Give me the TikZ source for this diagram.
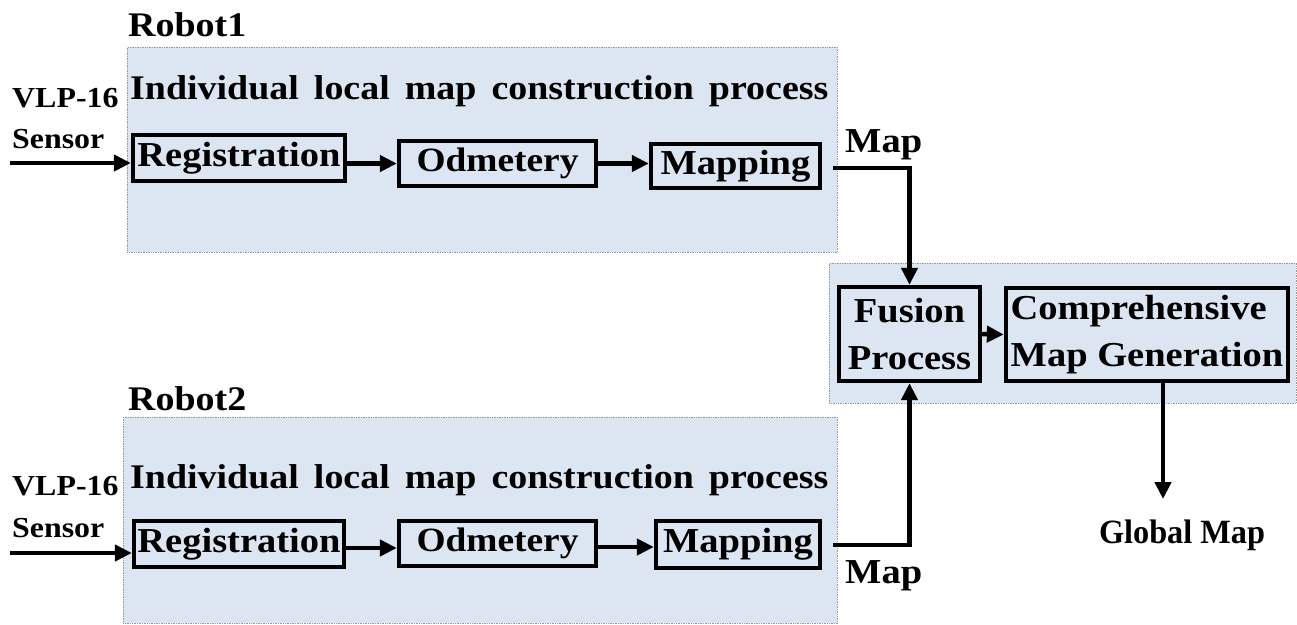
\documentclass[tikz,border=0pt]{standalone}
\usepackage{fontspec}
\setmainfont{Liberation Serif}[FakeStretch=1.1]
\newfontfamily\narrowfont{Liberation Serif}[FakeStretch=0.95]
\usetikzlibrary{arrows.meta}
\definecolor{panelblue}{RGB}{220,230,242}
\begin{document}
\begin{tikzpicture}[x=1pt,y=-1pt,
  panel/.style={fill=panelblue, draw=black!40, densely dotted, line width=0.7pt, inner sep=0, anchor=north west},
  box/.style={draw=black, solid, line width=4.3pt, inner sep=0, fill=panelblue, font=\fontsize{35}{40}\selectfont\bfseries},
  lbl/.style={inner sep=0, anchor=base west, font=\fontsize{34.5}{40}\selectfont\bfseries},
  sens/.style={inner sep=0, anchor=base west, font=\fontsize{29}{34}\selectfont\bfseries},
  conn/.style={line width=4.5pt, -{Triangle[length=17pt,width=16pt]}},
]
\useasboundingbox (0,0) rectangle (1297,624);

% panels
\node[panel, minimum width=710pt, minimum height=205pt] (p1) at (127,47) {};
\node[panel, minimum width=714pt, minimum height=206pt] (p2) at (123,417) {};
\node[panel, minimum width=467pt, minimum height=140pt] (p3) at (829,263) {};

% titles
\node[lbl] (r1) at (128,36) {Robot1};
\node[lbl] (r2) at (128,410) {Robot2};
\node[lbl] (t1) at (130,99) {Individual\hskip15pt local\hskip15pt map\hskip15pt construction\hskip15pt process};
\node[lbl] (t2) at (130,488) {Individual\hskip15pt local\hskip15pt map\hskip15pt construction\hskip15pt process};

% sensor labels
\node[sens] (v1) at (12,107) {VLP-16};
\node[sens] (s1) at (12,148) {Sensor};
\node[sens] (v2) at (12,495) {VLP-16};
\node[sens] (s2) at (12,537) {Sensor};

% row 1 boxes
\node[box, minimum width=212pt, minimum height=46pt] (reg1) at (239,158) {Registration};
\node[box, minimum width=197pt, minimum height=45pt, font=\fontsize{34}{40}\selectfont\bfseries] (odm1) at (497.5,163.5) {Odmetery};
\node[box, minimum width=169pt, minimum height=44pt] (map1) at (735.5,166) {Mapping};
% row 2 boxes
\node[box, minimum width=210pt, minimum height=46pt] (reg2) at (239,544) {Registration};
\node[box, minimum width=197pt, minimum height=45pt, font=\fontsize{34}{40}\selectfont\bfseries] (odm2) at (497.5,543.5) {Odmetery};
\node[box, minimum width=164pt, minimum height=47pt] (map2) at (738,544.5) {Mapping};

% fusion boxes
\node[box, minimum width=141pt, minimum height=94pt, align=center, font=\fontsize{35}{47}\selectfont\bfseries] (fus) at (909.5,334) {Fusion\\Process};
\node[box, minimum width=282pt, minimum height=93pt, align=left, inner xsep=3pt, font=\fontsize{35}{47}\selectfont\bfseries] (comp) at (1147,334.5) {Comprehensive\\Map Generation};

% map labels
\node[lbl, font=\fontsize{35}{40}\selectfont\bfseries] (ml1) at (845,152) {Map};
\node[lbl, font=\fontsize{35}{40}\selectfont\bfseries] (ml2) at (845,583) {Map};
\node[inner sep=0, anchor=base, font=\fontsize{34}{40}\selectfont\bfseries\narrowfont] (gm) at (1182,543) {Global Map};

% free ends
\coordinate (in1) at (10,163);
\coordinate (in2) at (10,553);
\coordinate (m1out) at (833,168);
\coordinate (m2out) at (833,545);
\coordinate (gtip) at (1163,499);

% connectors
\draw[conn] (in1) -- (in1 -| reg1.west);
\draw[conn] (in2) -- (in2 -| reg2.west);
\draw[conn] (reg1.east |- odm1.west) -- (odm1.west);
\draw[conn] (odm1.east) -- (odm1.east -| map1.west);
\draw[conn] (reg2.east |- 0,548) -- (odm2.west |- 0,548);
\draw[conn] (odm2.east |- 0,547) -- (map2.west |- 0,547);
\draw[conn] (m1out) -| (fus.north);
\draw[conn] (m2out) -| (fus.south);
\draw[conn] (fus.east) -- (comp.west);
\draw[conn] (comp.south -| gtip) -- (gtip);
\end{tikzpicture}
\end{document}
